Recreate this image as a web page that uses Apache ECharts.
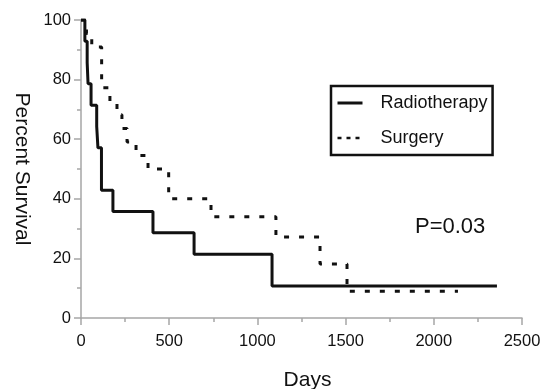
<!DOCTYPE html>
<html>
<head>
<meta charset="utf-8">
<script src="https://cdn.jsdelivr.net/npm/echarts@6/dist/echarts.min.js"></script>
<style>
  html, body { margin: 0; padding: 0; background: #fff; }
  #chart { width: 554px; height: 389px; }
</style>
</head>
<body>
<div id="chart"></div>
<script>
// Kaplan-Meier steps
const radioDays = [0, 22, 35, 40, 57, 89, 96, 116, 181, 408, 641, 1083, 2358];
const radioSurv = [100, 92.9, 85.7, 78.6, 71.4, 64.3, 57.1, 42.9, 35.7, 28.6, 21.4, 10.7, 10.7];

const surgDays = [0, 31, 61, 117, 164, 204, 232, 261, 312, 380, 497, 737, 1105, 1355, 1508, 2137];
const surgSurv = [100, 95.5, 90.9, 77.3, 72.7, 68.2, 63.6, 59.1, 54.5, 50, 40, 34, 27.2, 18.1, 9, 9];

const seriesNames = ['Radiotherapy', 'Surgery'];
const pLabel = 'P=0.03';

const FONT = 'Liberation Sans, Arial, sans-serif';
const AXIS_GREY = '#a6a6a6';

const chart = echarts.init(document.getElementById('chart'));

const zip = (xs, ys) => xs.map((x, i) => [x, ys[i]]);

const option = {
  backgroundColor: '#fff',
  animation: false,
  textStyle: { fontFamily: FONT, color: '#111' },
  grid: { left: 81, right: 32, top: 20, bottom: 71, containLabel: false, outerBoundsMode: 'none' },
  legend: {
    orient: 'vertical',
    left: 331,
    top: 86,
    padding: [8, 5, 8, 5],
    borderColor: '#111',
    borderWidth: 2.5,
    itemWidth: 25,
    itemHeight: 14,
    itemGap: 17,
    itemStyle: { opacity: 0 },
    textStyle: { fontSize: 18, color: '#111', padding: [0, 0, 0, 13] },
    data: [
      { name: seriesNames[0], lineStyle: { color: '#111', width: 3 } },
      { name: seriesNames[1], lineStyle: { color: '#111', width: 2.5, type: [4, 5] } },
    ],
  },
  xAxis: {
    type: 'value',
    min: 0,
    max: 2500,
    interval: 500,
    name: 'Days',
    nameLocation: 'middle',
    nameGap: 52,
    nameTextStyle: { fontSize: 21, color: '#111', padding: [0, 0, 0, 12] },
    axisLine: { lineStyle: { color: AXIS_GREY, width: 1.5 } },
    axisTick: { length: 7, lineStyle: { color: AXIS_GREY, width: 1.5 } },
    minorTick: { show: true, splitNumber: 2, length: 4, lineStyle: { color: AXIS_GREY, width: 1.5 } },
    axisLabel: { fontSize: 16.5, color: '#111', margin: 15, formatter: (v) => String(v) },
    splitLine: { show: false },
  },
  yAxis: {
    type: 'value',
    min: 0,
    max: 100,
    interval: 20,
    name: 'Percent Survival',
    nameLocation: 'middle',
    nameRotate: -90,
    nameGap: 44,
    nameTextStyle: { fontSize: 21, color: '#111' },
    axisLine: { show: true, lineStyle: { color: AXIS_GREY, width: 1.5 } },
    axisTick: { show: true, length: 7, lineStyle: { color: AXIS_GREY, width: 1.5 } },
    minorTick: { show: true, splitNumber: 2, length: 4, lineStyle: { color: AXIS_GREY, width: 1.5 } },
    axisLabel: { fontSize: 16.5, color: '#111', margin: 10 },
    splitLine: { show: false },
  },
  series: [
    {
      name: seriesNames[0],
      type: 'line',
      step: 'end',
      symbol: 'none',
      data: zip(radioDays, radioSurv),
      lineStyle: { color: '#111', width: 3 },
      itemStyle: { color: '#111' },
    },
    {
      name: seriesNames[1],
      type: 'line',
      step: 'end',
      symbol: 'none',
      data: zip(surgDays, surgSurv),
      lineStyle: { color: '#111', width: 3, type: [5, 10] },
      itemStyle: { color: '#111' },
    },
  ],
  graphic: [
    {
      type: 'text',
      left: 415,
      top: 216,
      style: { text: pLabel, font: '22px ' + FONT, fill: '#111' },
    },
  ],
};

chart.setOption(option);
</script>
</body>
</html>
